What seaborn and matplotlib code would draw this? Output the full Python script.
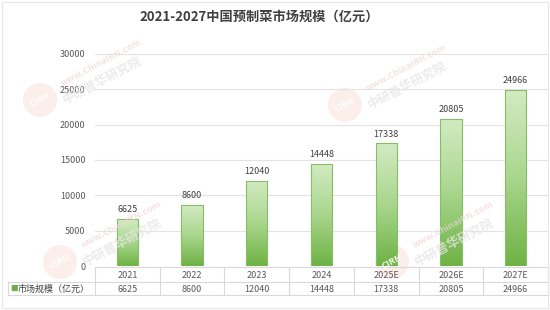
import numpy as np
import matplotlib
matplotlib.use("Agg")
import matplotlib.pyplot as plt
import seaborn as sns
import pandas as pd
from matplotlib.lines import Line2D
from matplotlib.patches import Ellipse
from matplotlib.colors import LinearSegmentedColormap

title = "2021-2027中国预制菜市场规模（亿元）"
years = ["2021", "2022", "2023", "2024", "2025E", "2026E", "2027E"]
values = [6625, 8600, 12040, 14448, 17338, 20805, 24966]
series_name = "市场规模（亿元）"
yticks = [0, 5000, 10000, 15000, 20000, 25000, 30000]

sns.set_theme(style="white")
plt.rcParams['font.family'] = ['Noto Sans CJK SC', 'DejaVu Sans']

W, H = 550, 310
fig = plt.figure(figsize=(W / 100, H / 100), dpi=100)
fig.patch.set_facecolor("white")

# faint watermarks (drawn first, underneath)
for (cx, cy) in [(40, 100), (60, 262), (345, 105), (392, 262)]:
    fig.add_artist(Ellipse((cx / W, 1 - cy / H), 34 / W, 34 / H, transform=fig.transFigure,
                           facecolor="#f6d0c8", edgecolor="none", alpha=0.35, zorder=0))
    fig.text(cx / W, 1 - cy / H, "CIRN", color="white", fontsize=6.5, fontweight="bold",
             ha="center", va="center", rotation=28, alpha=0.9, zorder=0.1)
    fig.text((cx + 22) / W, 1 - (cy - 16) / H, "www.ChinaIRN.com", color="#eed8d8", fontsize=6.5,
             rotation=28, rotation_mode="anchor", ha="left", va="center", alpha=0.7,
             fontweight="bold", zorder=0.1)
    fig.text((cx + 24) / W, 1 - (cy + 1) / H, "中研普华研究院", color="#e6e6e6", fontsize=9,
             rotation=28, rotation_mode="anchor", ha="left", va="center", alpha=0.8,
             fontweight="bold", zorder=0.1)

L, R, T, B = 95, 548, 54, 266
ax = fig.add_axes([L / W, 1 - B / H, (R - L) / W, (B - T) / H])
ax.patch.set_alpha(0)

df = pd.DataFrame({"year": years, "value": values})
sns.barplot(data=df, x="year", y="value", ax=ax, width=0.33, color="#8cc66a",
            edgecolor="#86bf63", linewidth=0.8, zorder=3)
ax.set_yticks(yticks)
ax.set_yticklabels([str(v) for v in yticks], fontsize=6.5, color="#595959")
ax.tick_params(axis="y", length=0, pad=7)
ax.set_xticks([])
ax.set_xlabel("")
ax.set_ylabel("")
for s in ax.spines.values():
    s.set_visible(False)
ax.grid(axis="y", color="#e3e3e3", linewidth=0.8, zorder=0)
ax.set_axisbelow(True)

# gradient fill in the bars
grad = np.linspace(0, 1, 256).reshape(-1, 1)
cmap = LinearSegmentedColormap.from_list("g", ["#6eb244", "#a9d68d", "#d3ebc3"])
for p in ax.patches:
    x0, y0 = p.get_x(), p.get_y()
    w, h = p.get_width(), p.get_height()
    im = ax.imshow(grad, extent=[x0, x0 + w, y0, y0 + h], origin="lower",
                   cmap=cmap, aspect="auto", zorder=3.5)
    im.set_clip_path(p)
    p.set_facecolor("none")
    p.set_zorder(4)
ax.set_xlim(-0.5, len(years) - 0.5)
ax.set_ylim(0, 30000)

# value labels
for i, v in enumerate(values):
    ax.text(i, v + 700, str(v), ha="center", va="bottom", fontsize=6.5, color="#404040")

# data table
tr = ax.get_xaxis_transform()
ah = B - T
def ay(py):
    return (B - py) / ah
row1, row2 = 275, 289
l_top, l_mid, l_bot = 267, 282, 295
lc = "#d9d9d9"
for i, (yr, v) in enumerate(zip(years, values)):
    ax.text(i, ay(row1), yr, transform=tr, ha="center", va="center", fontsize=6.5, color="#595959")
    ax.text(i, ay(row2), str(v), transform=tr, ha="center", va="center", fontsize=6.5, color="#595959")
for k in range(len(years) + 1):
    ax.plot([k - 0.5, k - 0.5], [ay(l_top), ay(l_bot)], transform=tr, color=lc,
            lw=0.8, clip_on=False)
ax.plot([-0.5, len(years) - 0.5], [ay(l_top), ay(l_top)], transform=tr, color=lc, lw=0.8, clip_on=False)

def fl(x0, y0, x1, y1, c=lc, lw=0.8):
    fig.add_artist(Line2D([x0 / W, x1 / W], [1 - y0 / H, 1 - y1 / H], color=c, lw=lw))
fl(8, l_mid, R, l_mid)
fl(8, l_bot, R, l_bot)
fl(8, l_mid, 8, l_bot)

fig.text(10 / W, 1 - row2 / H, "■", color="#70ad47", fontsize=5.5, va="center", ha="left")
fig.text(17 / W, 1 - row2 / H, series_name, color="#404040", fontsize=6.5, va="center", ha="left")

# outer border
fig.add_artist(plt.Rectangle((2 / W, 2 / H), (W - 4) / W, (H - 4) / H, fill=False,
                             edgecolor="#e6e6e6", lw=0.8, transform=fig.transFigure))

# title
fig.text(259 / W, 1 - 17 / H, title, ha="center", va="center", fontsize=9.5,
         fontweight="bold", color="#404040")

fig.savefig("out.png", dpi=100, facecolor="white")
